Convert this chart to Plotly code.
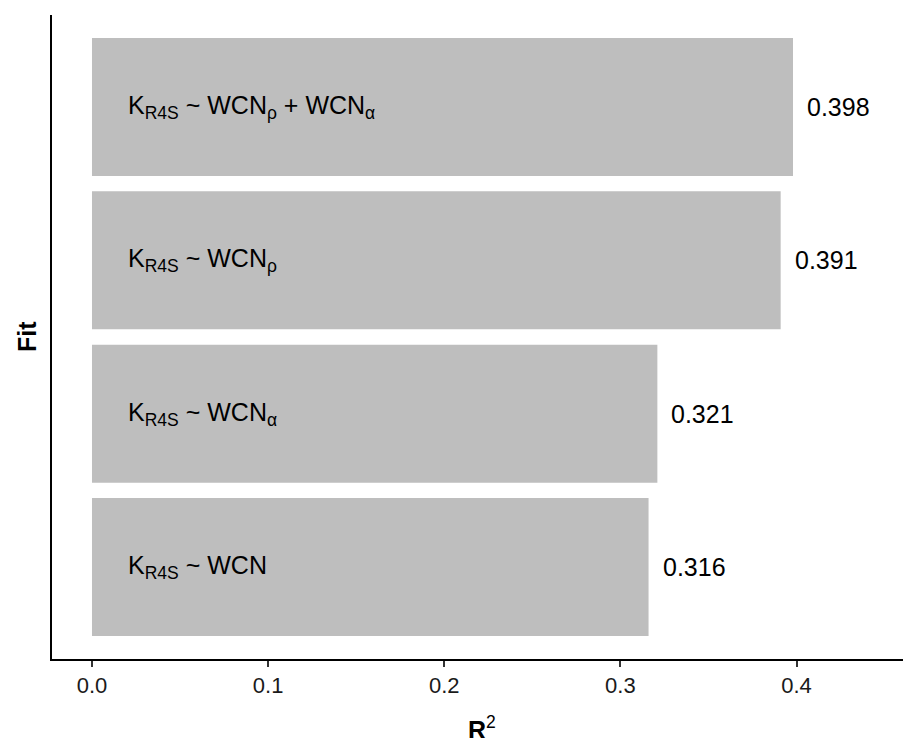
import plotly.graph_objects as go

fits = ["WCN", "WCN_a", "WCN_p", "WCN_p_a"]
fit_labels = [
    "K<sub>R4S</sub> ~ WCN",
    "K<sub>R4S</sub> ~ WCN<sub>α</sub>",
    "K<sub>R4S</sub> ~ WCN<sub>ρ</sub>",
    "K<sub>R4S</sub> ~ WCN<sub>ρ</sub> + WCN<sub>α</sub>",
]
r2 = [0.316, 0.321, 0.391, 0.398]
x_ticks = [0.0, 0.1, 0.2, 0.3, 0.4]
x_tick_labels = ["0.0", "0.1", "0.2", "0.3", "0.4"]

FONT = "Liberation Sans, Arial, Helvetica, sans-serif"

fig = go.Figure()
fig.add_trace(go.Bar(
    y=fits, x=r2, orientation="h",
    marker=dict(color="#BEBEBE", line=dict(width=0)),
    width=0.9, hoverinfo="skip",
))

annotations = []
for f, lab, v in zip(fits, fit_labels, r2):
    annotations.append(dict(
        x=0, y=f, xref="x", yref="y", text=lab, showarrow=False,
        xanchor="left", yanchor="middle", xshift=34,
        font=dict(family=FONT, size=25, color="black"),
    ))
    annotations.append(dict(
        x=v, y=f, xref="x", yref="y", text=f"{v:.3f}", showarrow=False,
        xanchor="left", yanchor="middle", xshift=12,
        font=dict(family=FONT, size=25, color="black"),
    ))

annotations.append(dict(
    x=0.5, y=0, xref="paper", yref="paper", text="<b>R</b><sup>2</sup>",
    showarrow=False, xanchor="center", yanchor="top", yshift=-51,
    font=dict(family=FONT, size=25, color="black"),
))
annotations.append(dict(
    x=0, y=0.5, xref="paper", yref="paper", text="<b>Fit</b>",
    showarrow=False, xanchor="center", yanchor="middle", xshift=-25,
    textangle=-90,
    font=dict(family=FONT, size=25, color="black"),
))

fig.update_layout(
    width=903, height=730,
    margin=dict(l=44, r=0, t=7, b=79),
    plot_bgcolor="white", paper_bgcolor="white",
    showlegend=False,
    annotations=annotations,
    font=dict(family=FONT, size=21),
)
fig.update_xaxes(
    range=[-0.0227, 0.465],
    tickvals=x_ticks, ticktext=x_tick_labels,
    showgrid=False, zeroline=False,
    showline=True, linecolor="black", linewidth=1.5,
    ticks="outside", ticklen=6, tickwidth=1.5, tickcolor="#333333",
    tickfont=dict(family=FONT, size=22, color="#1a1a1a"),
)
fig.update_yaxes(
    range=[-0.6, 3.6],
    categoryorder="array", categoryarray=fits,
    showticklabels=False, ticks="",
    showgrid=False, zeroline=False,
    showline=True, linecolor="black", linewidth=1.5,
)

fig.write_html("out.html")
